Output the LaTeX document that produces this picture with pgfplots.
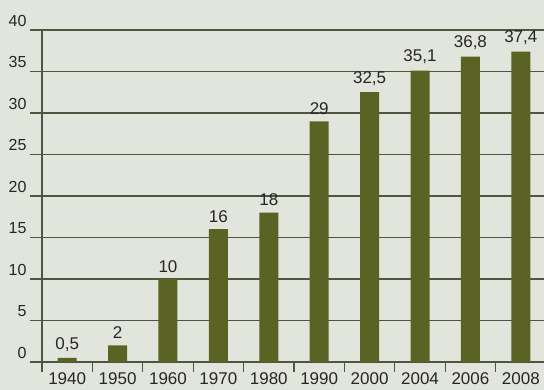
\documentclass[border=0pt]{standalone}
\usepackage{fontspec}
\setmainfont{Liberation Sans}
\usepackage{pgfplots}
\pgfplotsset{compat=1.18}
\definecolor{bg}{HTML}{E2E5DB}
\definecolor{barc}{HTML}{5A6324}
\definecolor{gridc}{HTML}{50553F}
\definecolor{txt}{HTML}{262626}
\begin{document}
\begin{tikzpicture}[x=1pt,y=1pt]
\fill[bg] (-30,-28) rectangle (514,362);
\useasboundingbox (-30,-28) rectangle (514,362);
\begin{axis}[at={(0,0)}, anchor=south west, scale only axis, width=514pt, height=332pt,
 xmin=-0.738, xmax=9.46, ymin=0, ymax=40,
 axis x line*=bottom, axis y line*=left,
 axis line style={draw=none, -},
 ytick={0,5,...,40}, ymajorgrids, grid style={gridc, line width=1.2pt},
 major tick length=0pt,
 minor xtick={-0.5,0.5,...,8.5},
 minor tick length=10pt,
 tick align=outside,
 minor tick style={gridc, line width=1.2pt},
 /pgf/number format/assume math mode=true,
 yticklabel style={anchor=south east, font=\fontsize{16}{16}\selectfont, text=txt},
 xtick={0,...,9}, xticklabels={1940,1950,1960,1970,1980,1990,2000,2004,2006,2008},
 xticklabel style={font=\fontsize{17}{17}\selectfont, text=txt, yshift=-7pt},
 clip=false,
 nodes near coords, point meta=explicit symbolic,
 every node near coord/.append style={font=\fontsize{17}{17}\selectfont, text=txt, yshift=3pt},
]
\addplot[ybar, bar width=19pt, fill=barc, draw=none] table[meta=label] {
x y label
0 0.5 0,5
1 2 2
2 10 10
3 16 16
4 18 18
5 29 29
6 32.5 32,5
7 35.1 35,1
8 36.8 36,8
9 37.4 37,4
};
\draw[gridc, line width=1.2pt] (axis cs:-0.5,40) -- ([yshift=-10pt]axis cs:-0.5,0);
\end{axis}
\end{tikzpicture}
\end{document}
